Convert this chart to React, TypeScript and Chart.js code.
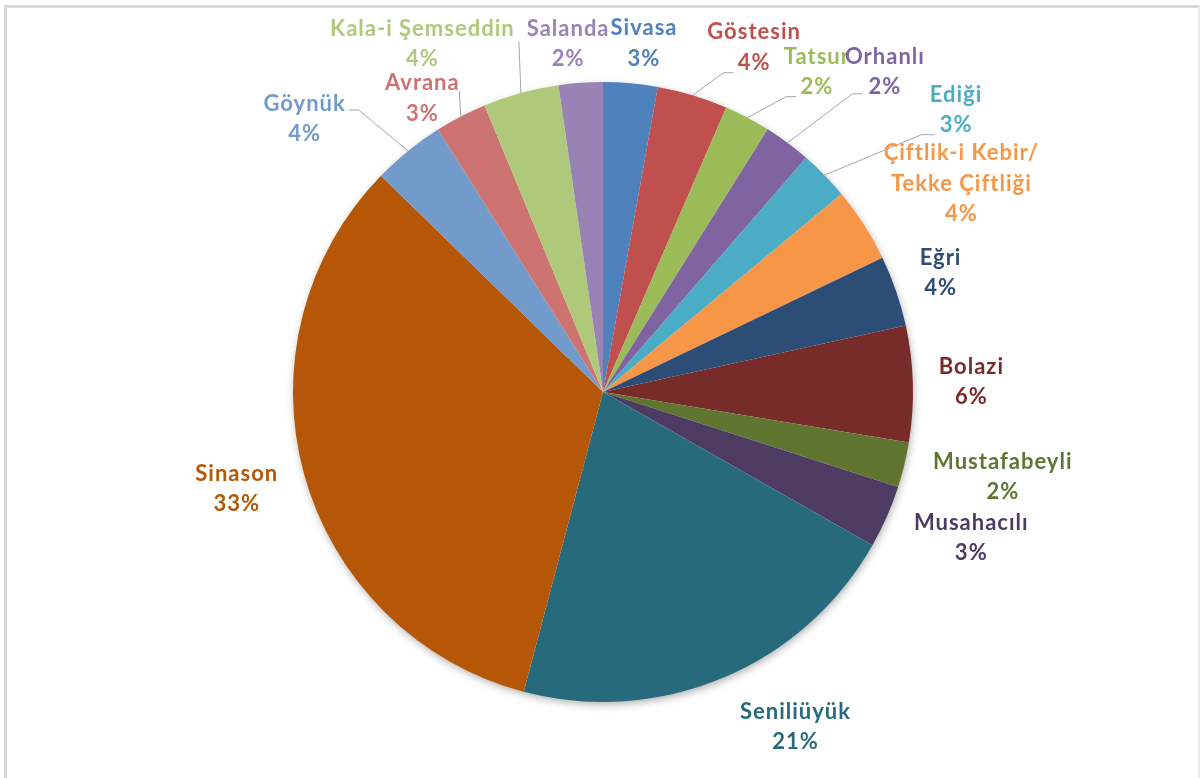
import React, { useEffect, useRef } from "react";
import { Chart, registerables, type ChartConfiguration, type Plugin } from "chart.js";

Chart.register(...registerables);

// ---------------------------------------------------------------
// data (share of total in %)
// ---------------------------------------------------------------
const villages = [
  "Sivasa", "Göstesin", "Tatsur", "Orhanlı", "Ediği", "Çiftlik-i Kebir/ Tekke Çiftliği",
  "Eğri", "Bolazi", "Mustafabeyli", "Musahacılı", "Seniliüyük", "Sinason",
  "Göynük", "Avrana", "Kala-i Şemseddin", "Salanda",
];
const shares = [2.83, 3.68, 2.41, 2.46, 2.6, 3.9, 3.7, 6.05, 2.35, 3.28, 20.9, 33.2, 3.78, 2.7, 3.94, 2.3];
const sliceColors = [
  "#4F81BD", "#C0504D", "#9BBB59", "#8064A2", "#4BACC6", "#F79646",
  "#2C4D75", "#772C2A", "#5F7530", "#4D3B62", "#276A7C", "#B65708",
  "#729ACA", "#CD7371", "#AFC97A", "#9983B5",
];

// label placement: offset of the label block from the slice's outer mid point,
// and optional leader end (relative to label centre) + length of the horizontal elbow
type LabelPos = { dx: number; dy: number; leader?: [number, number, number] };
const labelPos: LabelPos[] = [
  { dx: 13, dy: -40 },
  { dx: 61, dy: -48, leader: [-20, 25.5, 10] },
  { dx: 69, dy: -46, leader: [-20, 25, 10] },
  { dx: 97, dy: -71, leader: [-22, 22, 10] },
  { dx: 131, dy: -65, leader: [-21, 24.5, 13] },
  { dx: 97, dy: -41 },
  { dx: 44, dy: -18 },
  { dx: 58, dy: -2 },
  { dx: 98, dy: 12 },
  { dx: 84, dy: 21 },
  { dx: 72, dy: 49 },
  { dx: -68, dy: 14 },
  { dx: -104, dy: -32, leader: [44.5, -9, -10] },
  { dx: -39, dy: -18, leader: [37.5, -7.5, 0] },
  { dx: -99, dy: -49, leader: [97, -2.5, 0] },
  { dx: -13, dy: -39 },
];

const LABEL_FONT = "bold 22px Lato, 'Open Sans', sans-serif";
const LINE_H = 30.5;

// soft shadow under the pie (Excel style)
const pieShadow: Plugin<"pie"> = {
  id: "pieShadow",
  beforeDatasetsDraw(chart) {
    const arc: any = chart.getDatasetMeta(0).data[0];
    if (!arc) return;
    const { x, y, outerRadius } = arc.getProps(["x", "y", "outerRadius"], true);
    const ctx = chart.ctx;
    ctx.save();
    ctx.shadowColor = "rgba(0,0,0,0.35)";
    ctx.shadowBlur = 9;
    ctx.shadowOffsetX = 1;
    ctx.shadowOffsetY = 3;
    ctx.beginPath();
    ctx.arc(x, y, outerRadius - 1, 0, Math.PI * 2);
    ctx.fillStyle = "#ffffff";
    ctx.fill();
    ctx.restore();
  },
};

// outside labels with leader lines
const outsideLabels: Plugin<"pie"> = {
  id: "outsideLabels",
  afterDatasetsDraw(chart) {
    const ctx = chart.ctx;
    const meta = chart.getDatasetMeta(0);
    const total = shares.reduce((s, v) => s + v, 0);
    meta.data.forEach((el: any, i) => {
      const { x, y, startAngle, endAngle, outerRadius } = el.getProps(
        ["x", "y", "startAngle", "endAngle", "outerRadius"], true
      );
      const mid = (startAngle + endAngle) / 2;
      const ex = x + Math.cos(mid) * outerRadius;
      const ey = y + Math.sin(mid) * outerRadius;
      const pos = labelPos[i];
      const cx = ex + pos.dx;
      const cy = ey + pos.dy;

      if (pos.leader) {
        const [lx, ly, elbow] = pos.leader;
        const endX = cx + lx;
        const endY = cy + ly;
        ctx.save();
        ctx.strokeStyle = "#a6a6a6";
        ctx.lineWidth = 1;
        ctx.beginPath();
        ctx.moveTo(ex, ey);
        ctx.lineTo(endX - elbow, endY);
        ctx.lineTo(endX, endY);
        ctx.stroke();
        ctx.restore();
      }

      const lines = villages[i].split("/ ").map((s, k, arr) => (k < arr.length - 1 ? s + "/" : s));
      lines.push(Math.round((shares[i] / total) * 100) + "%");
      ctx.save();
      ctx.font = LABEL_FONT;
      (ctx as any).letterSpacing = "1px";
      ctx.fillStyle = sliceColors[i];
      ctx.textAlign = "center";
      ctx.textBaseline = "middle";
      lines.forEach((t, k) => {
        ctx.fillText(t, cx + 0.5, cy + (k - (lines.length - 1) / 2) * LINE_H);
      });
      ctx.restore();
    });
  },
};

const VillagePie: React.FC = () => {
  const canvasRef = useRef<HTMLCanvasElement | null>(null);
  const chartRef = useRef<Chart | null>(null);

  useEffect(() => {
    if (!canvasRef.current) return;
    chartRef.current?.destroy();

    const config: ChartConfiguration<"pie"> = {
      type: "pie",
      data: {
        labels: villages,
        datasets: [{
          data: shares,
          backgroundColor: sliceColors,
          borderWidth: 0,
          hoverOffset: 0,
        }],
      },
      options: {
        responsive: false,
        animation: false,
        events: [],
        layout: { padding: { top: 82, bottom: 76, left: 293, right: 287 } },
        plugins: {
          legend: { display: false },
          tooltip: { enabled: false },
        },
      },
      plugins: [pieShadow, outsideLabels],
    };

    chartRef.current = new Chart(canvasRef.current, config);
    return () => chartRef.current?.destroy();
  }, []);

  return <canvas ref={canvasRef} width={1200} height={778} style={styles.canvas} />;
};

export default function App() {
  return (
    <div style={styles.page}>
      <div style={styles.frame} />
      <VillagePie />
    </div>
  );
}

const styles = {
  page: { position: "fixed", left: 0, top: 0, width: 1200, height: 778, background: "#ffffff", overflow: "hidden" } as React.CSSProperties,
  frame: {
    position: "absolute", left: 4, top: 5, width: 1191, height: 800,
    borderTop: "3px solid #d9d9d9", borderLeft: "3px solid #d9d9d9", borderRight: "2px solid #e8e8e8",
  } as React.CSSProperties,
  canvas: { position: "absolute", left: 0, top: 0, width: 1200, height: 778 } as React.CSSProperties,
};
